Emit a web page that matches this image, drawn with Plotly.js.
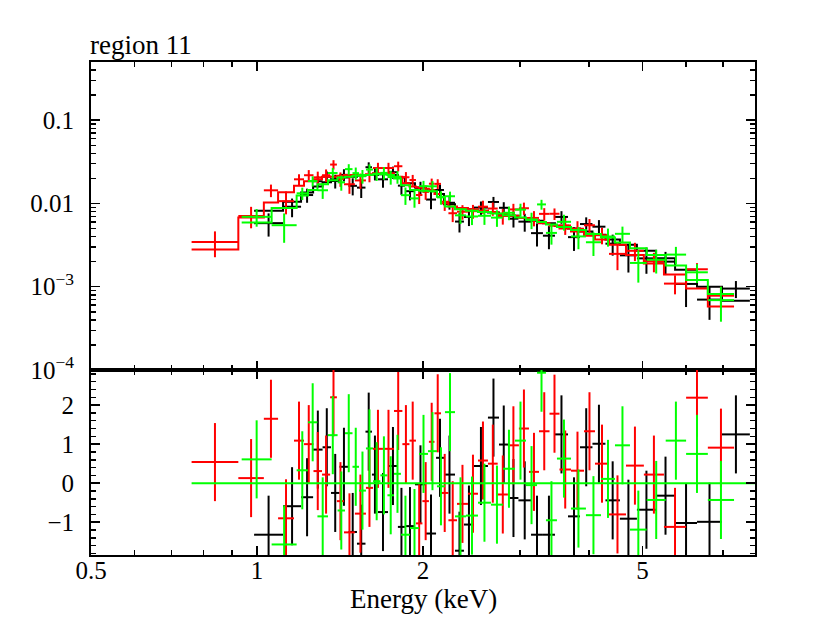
<!DOCTYPE html>
<html>
<head>
<meta charset="utf-8">
<script src="https://cdn.plot.ly/plotly-3.0.1.min.js"></script>
<style>html,body{margin:0;padding:0;background:#fff}</style>
</head>
<body>
<div id="grafico" style="width:830px;height:617px"></div>
<script>
// bordes de canal (keV), datos, errores, modelo y residuos por serie
const blackEdges = [0.988,1.115,1.202,1.264,1.315,1.362,1.411,1.465,1.518,1.573,1.616,1.657,1.728,1.801,1.855,1.934,2.025,2.112,2.183,2.286,2.373,2.474,2.623,2.747,2.858,2.979,3.140,3.300,3.470,3.664,3.852,4.058,4.284,4.551,4.886,5.29,5.73,6.28,6.97,7.83];
const blackModel = [0.0082,0.0105,0.0135,0.016,0.018,0.0195,0.0205,0.021,0.0215,0.022,0.022,0.0225,0.022,0.0205,0.0175,0.0155,0.0145,0.013,0.0098,0.0088,0.0085,0.0082,0.0078,0.0074,0.0071,0.0067,0.0062,0.0058,0.0054,0.005,0.0046,0.0042,0.0037,0.0032,0.0027,0.0022,0.0016,0.001,0.00068];
const blackData = [0.0058,0.00914,0.01262,0.01848,0.02098,0.01862,0.02205,0.01628,0.0155,0.02723,0.02287,0.0195,0.02374,0.01637,0.01404,0.01542,0.01114,0.01452,0.01019,0.00606,0.00688,0.00892,0.01042,0.00887,0.00656,0.00605,0.0044,0.0041,0.00689,0.00394,0.00566,0.00526,0.00329,0.00238,0.00219,0.002,0.00108,0.0007,0.00095];
const blackErr = [0.0018,0.00231,0.00243,0.00288,0.00324,0.00351,0.00369,0.00378,0.00387,0.00396,0.00396,0.00405,0.00396,0.00369,0.00315,0.00279,0.00261,0.00234,0.00176,0.00158,0.00153,0.00164,0.00156,0.00148,0.00142,0.00147,0.00136,0.00128,0.00119,0.00125,0.00115,0.00105,0.00093,0.0009,0.00076,0.00062,0.00051,0.0003,0.00022];
const blackResid = [-1.32,-0.59,-0.36,0.86,0.92,-0.25,0.42,-1.25,-1.55,1.32,0.22,-0.74,0.44,-1.12,-1.1,-0.03,-1.29,0.65,0.22,-1.73,-1.06,0.44,1.68,0.99,-0.38,-0.44,-1.32,-1.32,1.25,-0.85,0.92,1.01,-0.44,-0.91,-0.68,-0.32,-1.02,-0.99,1.25];

const redEdges = [0.761,0.925,1.029,1.092,1.167,1.217,1.266,1.312,1.357,1.396,1.438,1.505,1.576,1.623,1.692,1.772,1.835,1.890,1.942,1.995,2.050,2.098,2.156,2.224,2.305,2.413,2.516,2.623,2.732,2.851,2.985,3.113,3.246,3.392,3.536,3.710,3.917,4.101,4.348,4.668,5.03,5.47,6.00,6.57,7.33];
const redModel = [0.0028,0.0068,0.0103,0.0136,0.0163,0.0185,0.0195,0.021,0.021,0.0215,0.022,0.022,0.0225,0.023,0.023,0.021,0.0175,0.016,0.0155,0.015,0.0145,0.013,0.0105,0.0092,0.0088,0.0085,0.0082,0.0079,0.0075,0.0071,0.0067,0.0063,0.0058,0.0054,0.005,0.0046,0.0041,0.0037,0.0032,0.0024,0.0019,0.0014,0.00095,0.00058];
const redData = [0.00344,0.00707,0.01438,0.01066,0.0195,0.02183,0.02059,0.02183,0.02932,0.01972,0.01701,0.01891,0.02201,0.02664,0.02664,0.028,0.02065,0.01914,0.01263,0.01376,0.01727,0.01719,0.01003,0.00763,0.00796,0.00808,0.00915,0.00869,0.00707,0.00848,0.00876,0.0067,0.0075,0.00752,0.00544,0.00497,0.00547,0.00416,0.00248,0.0027,0.00202,0.00109,0.00162,0.00078];
const redErr = [0.00118,0.00204,0.00247,0.00326,0.00293,0.00333,0.00351,0.00378,0.00378,0.00387,0.00396,0.00396,0.00405,0.00414,0.00414,0.00378,0.00315,0.00288,0.00279,0.0027,0.00261,0.00234,0.00189,0.00166,0.00158,0.00153,0.00164,0.00158,0.0015,0.00142,0.00147,0.00139,0.00128,0.00119,0.00125,0.00115,0.00103,0.00093,0.0009,0.00067,0.00053,0.00028,0.0003,0.00022];
const redResid = [0.54,0.13,1.65,-0.9,1.09,1.0,0.31,0.22,2.2,-0.46,-1.26,-0.78,-0.12,0.88,0.88,1.85,1.0,1.09,-1.03,-0.46,1.06,1.79,-0.25,-0.95,-0.53,-0.27,0.58,0.5,-0.29,0.97,1.4,0.29,1.33,1.78,0.35,0.32,1.33,0.5,-0.8,0.45,0.22,-1.12,2.19,0.91];

const greenEdges = [0.938,1.063,1.180,1.237,1.287,1.345,1.400,1.444,1.490,1.531,1.576,1.623,1.674,1.724,1.772,1.824,1.894,1.967,2.042,2.120,2.192,2.286,2.393,2.516,2.656,2.793,2.936,3.075,3.220,3.342,3.499,3.710,3.949,4.205,4.458,4.746,5.09,5.51,6.00,6.57,7.33];
const greenModel = [0.0059,0.0088,0.0125,0.0145,0.017,0.019,0.0205,0.021,0.0215,0.022,0.022,0.0225,0.0225,0.022,0.02,0.0165,0.0145,0.0142,0.014,0.012,0.0092,0.0085,0.0082,0.0079,0.0076,0.0072,0.0068,0.0064,0.006,0.0056,0.0052,0.0048,0.0043,0.0039,0.0034,0.0029,0.0024,0.0018,0.0012,0.00082];
const greenData = [0.00691,0.00548,0.01324,0.01857,0.0144,0.0232,0.01792,0.02584,0.02313,0.02125,0.02552,0.0227,0.02331,0.02077,0.02086,0.01258,0.0115,0.01612,0.01607,0.01183,0.01221,0.0072,0.00698,0.00711,0.00676,0.00773,0.00843,0.00633,0.00974,0.00443,0.00602,0.00402,0.00342,0.00401,0.00432,0.00193,0.00211,0.00243,0.00149,0.00069];
const greenErr = [0.00165,0.00211,0.00225,0.00261,0.00306,0.00342,0.00369,0.00378,0.00387,0.00396,0.00396,0.00405,0.00405,0.00396,0.0036,0.00297,0.00261,0.00256,0.00252,0.00216,0.00166,0.00153,0.00148,0.00158,0.00152,0.00144,0.0015,0.00141,0.00132,0.00123,0.0013,0.0012,0.00108,0.00098,0.00095,0.00081,0.00067,0.00058,0.00038,0.00031];
const greenResid = [0.61,-1.57,0.33,1.56,-0.85,1.23,-0.7,1.28,0.42,-0.19,0.89,0.05,0.2,-0.31,0.24,-1.32,-1.15,0.75,0.82,-0.08,1.82,-0.85,-0.83,-0.5,-0.55,0.37,1.09,-0.05,2.83,-0.95,0.63,-0.65,-0.82,0.11,0.97,-1.19,-0.43,1.09,0.75,-0.43];

const xTicks = [0.5, 1, 2, 5];
const xTickText = ["0.5", "1", "2", "5"];
const xMinor = [0.6, 0.7, 0.8, 0.9, 3, 4, 6, 7];
const yTicks = [1e-4, 1e-3, 0.01, 0.1];
const yTickText = ["10<sup>\u22124</sup>", "10<sup>\u22123</sup>", "0.01", "0.1"];
const rTicks = [-1, 0, 1, 2];
const rTickText = ["\u22121", "0", "1", "2"];
const xRange = [0.5, 8];

function centros(edges) {
    return edges.slice(0, -1).map((e, i) => Math.sqrt(e * edges[i + 1]));
}

function trazasSerie(edges, datos, errores, modelo, residuos, color) {
    const xc = centros(edges);
    const ePlus = xc.map((c, i) => edges[i + 1] - c);
    const eMinus = xc.map((c, i) => c - edges[i]);
    const ex = { type: "data", symmetric: false, array: ePlus, arrayminus: eMinus, width: 0, thickness: 2, color };

    const cruz = {
        x: xc, y: datos, mode: "markers", type: "scatter",
        marker: { size: 1, opacity: 0, color },
        error_x: ex,
        error_y: { type: "data", array: errores, width: 0, thickness: 2, color },
        xaxis: "x", yaxis: "y", hoverinfo: "skip", showlegend: false
    };
    const escalon = {
        x: edges, y: modelo.concat([modelo[modelo.length - 1]]),
        mode: "lines", type: "scatter",
        line: { shape: "hv", color, width: 2 },
        xaxis: "x", yaxis: "y", hoverinfo: "skip", showlegend: false
    };
    const res = {
        x: xc, y: residuos, mode: "markers", type: "scatter",
        marker: { size: 1, opacity: 0, color },
        error_x: ex,
        error_y: { type: "constant", value: 1, width: 0, thickness: 2, color },
        xaxis: "x2", yaxis: "y2", hoverinfo: "skip", showlegend: false
    };
    return [cruz, escalon, res];
}

const trazas = [
    ...trazasSerie(blackEdges, blackData, blackErr, blackModel, blackResid, "#000000"),
    ...trazasSerie(redEdges, redData, redErr, redModel, redResid, "#ff0000"),
    ...trazasSerie(greenEdges, greenData, greenErr, greenModel, greenResid, "#00ff00")
];

// linea de cero del panel de residuos
trazas.push({
    x: [Math.min(blackEdges[0], redEdges[0], greenEdges[0]), xRange[1]], y: [0, 0],
    mode: "lines", type: "scatter", line: { color: "#00ff00", width: 2 },
    xaxis: "x2", yaxis: "y2", hoverinfo: "skip", showlegend: false
});

// ticks menores logaritmicos del eje y superior
const yMinor = [];
for (let d = -4; d <= -1; d++) {
    for (let k = 2; k <= 9; k++) {
        const v = k * Math.pow(10, d);
        if (v <= 0.5) yMinor.push(v);
    }
}

const ejeX = {
    type: "log", range: xRange.map(Math.log10),
    tickmode: "array", tickvals: xTicks, ticktext: xTickText,
    ticks: "inside", ticklen: 9, tickwidth: 1.5, tickcolor: "black",
    minor: { tickmode: "array", tickvals: xMinor, ticks: "inside", ticklen: 5, tickwidth: 1.5, tickcolor: "black" },
    showline: true, linewidth: 2, linecolor: "black", mirror: "allticks",
    showgrid: false, zeroline: false
};

const layout = {
    width: 830, height: 617,
    margin: { l: 91, r: 75, t: 62, b: 62 },
    paper_bgcolor: "white", plot_bgcolor: "white",
    font: { family: "Liberation Serif, Times New Roman, serif", size: 25, color: "black" },
    showlegend: false,
    xaxis: Object.assign({}, ejeX, { anchor: "y", showticklabels: false }),
    xaxis2: Object.assign({}, ejeX, { anchor: "y2", matches: "x", showticklabels: true, ticklabelstandoff: -8 }),
    yaxis: {
        type: "log", domain: [0.3753, 1], range: [-4, Math.log10(0.5)],
        tickmode: "array", tickvals: yTicks, ticktext: yTickText,
        ticks: "inside", ticklen: 9, tickwidth: 1.5, tickcolor: "black",
        minor: { tickmode: "array", tickvals: yMinor, ticks: "inside", ticklen: 5, tickwidth: 1.5, tickcolor: "black" },
        showline: true, linewidth: 2, linecolor: "black", mirror: "allticks",
        showgrid: false, zeroline: false, ticklabelstandoff: 10, anchor: "x"
    },
    yaxis2: {
        domain: [0, 0.3753], range: [-1.84, 2.9],
        tickmode: "array", tickvals: rTicks, ticktext: rTickText,
        ticks: "inside", ticklen: 9, tickwidth: 1.5, tickcolor: "black",
        minor: { dtick: 0.2, ticks: "inside", ticklen: 5, tickwidth: 1.5, tickcolor: "black" },
        showline: true, linewidth: 2, linecolor: "black", mirror: "allticks",
        showgrid: false, zeroline: false, ticklabelstandoff: 10, anchor: "x2"
    },
    annotations: [
        { text: "region 11", xref: "paper", yref: "paper", x: 0, y: 1, xanchor: "left", yanchor: "bottom",
          xshift: -3, yshift: 0, showarrow: false, font: { size: 27 } },
        { text: "Energy (keV)", xref: "paper", yref: "paper", x: 0.5, y: 0, xanchor: "center", yanchor: "top",
          yshift: -27, showarrow: false, font: { size: 27 } }
    ]
};

Plotly.newPlot("grafico", trazas, layout, { staticPlot: true });
</script>
</body>
</html>
